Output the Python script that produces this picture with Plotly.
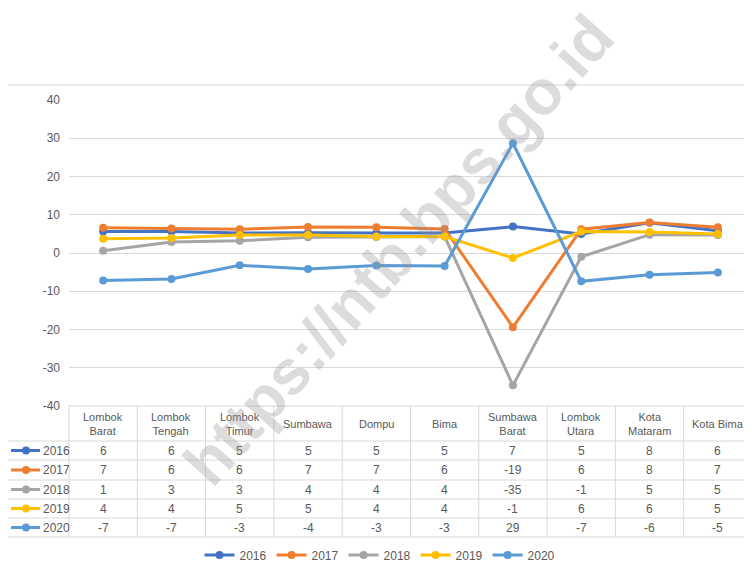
import math
import plotly.graph_objects as go

categories = ["Lombok Barat", "Lombok Tengah", "Lombok Timur", "Sumbawa", "Dompu",
              "Bima", "Sumbawa Barat", "Lombok Utara", "Kota Mataram", "Kota Bima"]
header_labels = ["Lombok<br>Barat", "Lombok<br>Tengah", "Lombok<br>Timur", "Sumbawa", "Dompu",
                 "Bima", "Sumbawa<br>Barat", "Lombok<br>Utara", "Kota<br>Mataram", "Kota Bima"]
years = ["2016", "2017", "2018", "2019", "2020"]
v2016 = [5.6, 5.6, 5.2, 5.3, 5.2, 5.2, 6.9, 5.0, 7.9, 5.8]
v2017 = [6.6, 6.4, 6.2, 6.8, 6.7, 6.3, -19.4, 6.2, 8.0, 6.7]
v2018 = [0.6, 2.9, 3.2, 4.1, 4.2, 4.3, -34.6, -1.0, 4.8, 4.7]
v2019 = [3.7, 3.9, 4.7, 4.7, 4.3, 4.3, -1.3, 5.6, 5.5, 5.0]
v2020 = [-7.2, -6.8, -3.2, -4.2, -3.3, -3.4, 28.7, -7.4, -5.7, -5.1]
series = [v2016, v2017, v2018, v2019, v2020]
colors = ["#4472C4", "#ED7D31", "#A5A5A5", "#FFC000", "#5B9BD5"]
y_ticks = [-40, -30, -20, -10, 0, 10, 20, 30, 40]
y_ticktext = ["-40", "-30", "-20", "-10", "0", "10", "20", "30", "40"]

OFF = 8  # page body margin
W, H = 752 - OFF, 572 - OFF
L, R, T = 69 - OFF, 0, 100 - OFF
B = H - (406 - OFF)
PW, PH = W - L - R, H - T - B
FONT = "Liberation Sans"
GREY = "#595959"
BORDER = "#D9D9D9"


def px(sx):
    return (sx - OFF - L) / PW


def py(sy):
    return (H - B - (sy - OFF)) / PH


def rnd(v):
    return int(math.floor(abs(v) + 0.5)) * (1 if v >= 0 else -1)


fig = go.Figure()
for name, vals, col in zip(years, series, colors):
    fig.add_trace(go.Scatter(
        x=list(range(len(categories))), y=vals, name=name, mode="lines+markers",
        line=dict(color=col, width=3), marker=dict(color=col, size=8),
        hoverinfo="x+y+name"))

shapes = []
ann = []
shapes.append(dict(type="line", xref="paper", yref="paper", x0=px(0), x1=px(752), y0=py(85), y1=py(85),
                   line=dict(color=BORDER, width=1)))
row_y = [406, 441, 460, 480, 499, 518, 537]
ncat = len(categories)
col_edges = [i * (1.0 / ncat) for i in range(ncat + 1)]
shapes.append(dict(type="line", xref="paper", yref="paper", x0=0, x1=1, y0=py(406), y1=py(406),
                   line=dict(color=BORDER, width=1)))
for yy in row_y[1:]:
    shapes.append(dict(type="line", xref="paper", yref="paper", x0=px(7), x1=1, y0=py(yy), y1=py(yy),
                       line=dict(color=BORDER, width=1)))
for xe in col_edges:
    shapes.append(dict(type="line", xref="paper", yref="paper", x0=xe, x1=xe, y0=py(406), y1=py(537),
                       line=dict(color=BORDER, width=1)))
shapes.append(dict(type="line", xref="paper", yref="paper", x0=px(7), x1=px(7), y0=py(441), y1=py(537),
                   line=dict(color=BORDER, width=1)))

for i, lab in enumerate(header_labels):
    ann.append(dict(x=(i + 0.5) / ncat, y=py((406 + 441) / 2), xref="paper", yref="paper",
                    text=lab, showarrow=False, align="center", xanchor="center", yanchor="middle",
                    font=dict(family=FONT, size=11, color=GREY)))
for r, (name, vals, col) in enumerate(zip(years, series, colors)):
    ycs = (row_y[r + 1] + row_y[r + 2]) / 2
    yc = py(ycs)
    shapes.append(dict(type="line", xref="paper", yref="paper", x0=px(11), x1=px(40), y0=yc, y1=yc,
                       line=dict(color=col, width=3)))
    shapes.append(dict(type="circle", xref="paper", yref="paper",
                       x0=px(22), x1=px(30), y0=py(ycs + 4), y1=py(ycs - 4),
                       fillcolor=col, line=dict(color=col, width=0)))
    ann.append(dict(x=px(41), y=yc, xref="paper", yref="paper", text=name, showarrow=False,
                    xanchor="left", yanchor="middle", font=dict(family=FONT, size=12, color=GREY)))
    for i, v in enumerate(vals):
        ann.append(dict(x=(i + 0.5) / ncat, y=yc, xref="paper", yref="paper", text=str(rnd(v)),
                        showarrow=False, xanchor="center", yanchor="middle",
                        font=dict(family=FONT, size=12, color=GREY)))

# watermark
ann.append(dict(x=px(398), y=py(250), xref="paper", yref="paper", text="<b>https://ntb.bps.go.id</b>",
                showarrow=False, textangle=-48, xanchor="center", yanchor="middle",
                font=dict(family="Liberation Sans", size=63, color="rgba(150,150,150,0.33)")))

fig.update_layout(
    width=W, height=H, margin=dict(l=L, r=R, t=T, b=B),
    paper_bgcolor="white", plot_bgcolor="white",
    font=dict(family=FONT, size=11, color=GREY),
    xaxis=dict(range=[-0.5, ncat - 0.5], showgrid=False, showticklabels=False, zeroline=False,
               showline=False, fixedrange=True),
    yaxis=dict(range=[-40, 40], tickvals=y_ticks, ticktext=y_ticktext, showgrid=True,
               gridcolor=BORDER, gridwidth=1,
               zeroline=False, showline=False, ticks="", ticklabelstandoff=8,
               tickfont=dict(family=FONT, size=12, color=GREY)),
    showlegend=True,
    legend=dict(orientation="h", x=px(380), xanchor="center", y=py(555), yanchor="middle",
                font=dict(family=FONT, size=12, color=GREY), itemwidth=30, bgcolor="rgba(0,0,0,0)"),
    shapes=shapes, annotations=ann,
)
fig.write_html("out.html")
